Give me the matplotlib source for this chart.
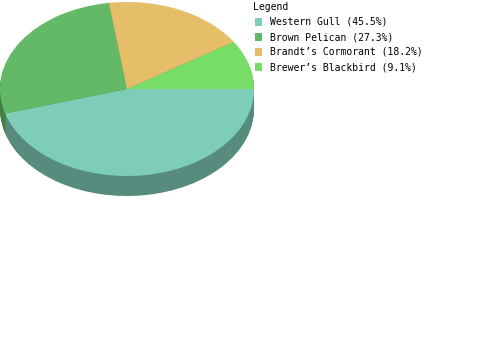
import matplotlib
matplotlib.use('Agg')
import matplotlib.pyplot as plt
from matplotlib.patches import Rectangle
import numpy as np

# data
birds = ['Western Gull', 'Brown Pelican', 'Brandt\u2019s Cormorant', 'Brewer\u2019s Blackbird']
counts = [5, 3, 2, 1]
colors = ['#7ecdb8', '#64b966', '#e6be6a', '#77dd66']

W, H = 500, 350
cx, cy = 127, 89      # pie centre in pixels (from top-left)
rx, ry = 127, 87      # ellipse radii in pixels
depth = 20            # thickness of the 3d side

fig = plt.figure(figsize=(W / 100, H / 100), dpi=100)
ax = fig.add_axes([0, 0, 1, 1])

def darker(c, f=0.68):
    r, g, b = matplotlib.colors.to_rgb(c)
    return (r * f, g * f, b * f)

side_cols = [darker(c) for c in colors]
d = depth / ry
for off in np.linspace(d, 0, depth + 1)[:-1]:
    ax.pie(counts, colors=side_cols, startangle=0, counterclock=False,
           center=(0, -off), wedgeprops=dict(linewidth=0))
ax.pie(counts, colors=colors, startangle=0, counterclock=False,
       center=(0, 0), wedgeprops=dict(linewidth=0))

# map pixel box onto data units (radius 1 -> rx px horizontally, ry px vertically)
ax.set_aspect('auto')
ax.set_xlim(-cx / rx, (W - cx) / rx)
ax.set_ylim(-(H - cy) / ry, cy / ry)
ax.axis('off')

# legend drawn by hand
total = sum(counts)
mono = 'DejaVu Sans Mono'
fig.text(253 / W, 1 - 7 / H, 'Legend', fontsize=7, family=mono, va='center', ha='left')
for i, (name, n, c) in enumerate(zip(birds, counts, colors)):
    y = 22 + 15 * i
    fig.patches.append(Rectangle((255 / W, 1 - (y + 3.5) / H), 7 / W, 7 / H,
                                 transform=fig.transFigure, color=c, lw=0))
    fig.text(270 / W, 1 - y / H, f'{name} ({100 * n / total:.1f}%)',
             fontsize=7, family=mono, va='center', ha='left')

fig.savefig('out.png', dpi=100)
